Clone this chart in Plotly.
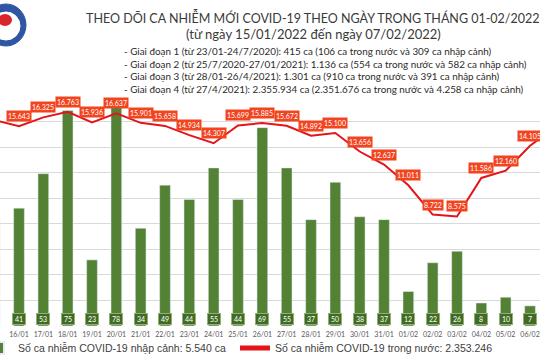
import plotly.graph_objects as go

dates = ["15/01", "16/01", "17/01", "18/01", "19/01", "20/01", "21/01", "22/01",
         "23/01", "24/01", "25/01", "26/01", "27/01", "28/01", "29/01", "30/01",
         "31/01", "01/02", "02/02", "03/02", "04/02", "05/02", "06/02", "07/02"]
imported = [38, 41, 53, 75, 23, 78, 34, 49, 44, 55, 44, 69, 55, 37, 50, 38,
            37, 12, 22, 26, 8, 10, 7, 9]
domestic = [16105, 15643, 16325, 16763, 15936, 16637, 15901, 15658, 14934, 14307,
            15699, 15885, 15672, 14892, 15100, 13656, 12637, 11011, 8722, 8575,
            11586, 12160, 14105, 15500]

title1 = "THEO DÕI CA NHIỄM MỚI COVID-19 THEO NGÀY TRONG THÁNG 01-02/2022"
title2 = "(từ ngày 15/01/2022 đến ngày 07/02/2022)"
stages = [
    "- Giai đoạn 1 (từ 23/01-24/7/2020): 415 ca (106 ca trong nước và 309 ca nhập cảnh)",
    "- Giai đoạn 2 (từ 25/7/2020-27/01/2021): 1.136 ca (554 ca trong nước và 582 ca nhập cảnh)",
    "- Giai đoạn 3 (từ 28/01-26/4/2021): 1.301 ca (910 ca trong nước và 391 ca nhập cảnh)",
    "- Giai đoạn 4 (từ 27/4/2021): 2.355.934 ca (2.351.676 ca trong nước và 4.258 ca nhập cảnh)",
]
legend_bar = "Số ca nhiễm COVID-19 nhập cảnh: 5.540 ca"
legend_line = "Số ca nhiễm COVID-19 trong nước: 2.353.246 ca"

def fmt(v):
    return f"{v:,}".replace(",", ".")

W, H = 540, 360
ML, MR, MT, MB = 0, 0, 96, 34
PH = H - MT - MB

def px_x(x):
    return (x - ML) / (W - ML - MR)

def px_y(y):
    return (H - MB - y) / PH

FONT = "Lato"
GREEN = "#548235"
RED = "#e4141b"

fig = go.Figure()
fig.add_trace(go.Bar(x=dates, y=imported, name=legend_bar, marker_color=GREEN,
                     yaxis="y", hoverinfo="skip"))
fig.add_trace(go.Scatter(x=dates, y=domestic, name=legend_line, mode="lines",
                         line=dict(color=RED, width=2), yaxis="y2", hoverinfo="skip"))

ann = []
for d, v in zip(dates, imported):
    ann.append(dict(x=d, y=0, xref="x", yref="y", text=str(v), showarrow=False,
                    yanchor="middle", yshift=7, font=dict(family=FONT, size=7, color="white"),
                    bgcolor="#416b25", bordercolor="#8fb070", borderwidth=1, borderpad=1,
                    width=10))
for d, v in zip(dates, domestic):
    ann.append(dict(x=d, y=v, xref="x", yref="y2", text=fmt(v), showarrow=False,
                    yanchor="bottom", yshift=4, font=dict(family=FONT, size=7, color="white"),
                    bgcolor="#f1441f", borderpad=1))

ann.append(dict(x=px_x(313), y=px_y(18), xref="paper", yref="paper", text=title1,
                showarrow=False, xanchor="center", yanchor="middle",
                font=dict(family=FONT, size=12.5, color="#3a3a3a")))
ann.append(dict(x=px_x(313), y=px_y(34), xref="paper", yref="paper", text=title2,
                showarrow=False, xanchor="center", yanchor="middle",
                font=dict(family=FONT, size=13, color="#3a3a3a")))
for i, s in enumerate(stages):
    ann.append(dict(x=px_x(122), y=px_y(51 + 12.6 * i), xref="paper", yref="paper", text=s,
                    showarrow=False, xanchor="left", yanchor="middle",
                    font=dict(family=FONT, size=9.85, color="#2b2b2b")))

shapes = [
    dict(type="circle", xref="paper", yref="paper",
         x0=px_x(-14), x1=px_x(26), y0=px_y(46), y1=px_y(4),
         fillcolor="#2f56a3", line=dict(color="#2f56a3", width=1)),
    dict(type="circle", xref="paper", yref="paper",
         x0=px_x(-8), x1=px_x(20), y0=px_y(40), y1=px_y(12),
         fillcolor="white", line=dict(color="white", width=1)),
    dict(type="circle", xref="paper", yref="paper",
         x0=px_x(-2), x1=px_x(12), y0=px_y(26), y1=px_y(14),
         fillcolor="#d9262c", line=dict(width=0)),
]

fig.update_layout(
    width=W, height=H,
    margin=dict(l=ML, r=MR, t=MT, b=MB, autoexpand=False),
    paper_bgcolor="white", plot_bgcolor="white",
    bargap=0.56,
    hovermode=False,
    showlegend=True,
    legend=dict(orientation="h", x=px_x(-22), xanchor="left", y=px_y(348), yanchor="middle",
                font=dict(family="Liberation Sans", size=10.5, color="#404040"),
                entrywidth=212, entrywidthmode="pixels", bgcolor="rgba(0,0,0,0)",
                itemsizing="constant"),
    xaxis=dict(type="category", range=[0.219, 22.41], showgrid=False, ticks="",
               tickfont=dict(family=FONT, size=7, color="#595959"), showline=False,
               anchor="y", zeroline=False, ticklabelstandoff=3),
    yaxis=dict(range=[0, 80], showgrid=False, showticklabels=False, zeroline=False),
    yaxis2=dict(range=[0, 18000], overlaying="y", anchor="x", dtick=2000,
                showgrid=True, gridcolor="#d9d9d9", gridwidth=1, showticklabels=False,
                zeroline=False),
    annotations=ann,
    shapes=shapes,
)

fig.write_html("out.html", config={"staticPlot": True},
               post_script="document.body.style.margin='0';")
